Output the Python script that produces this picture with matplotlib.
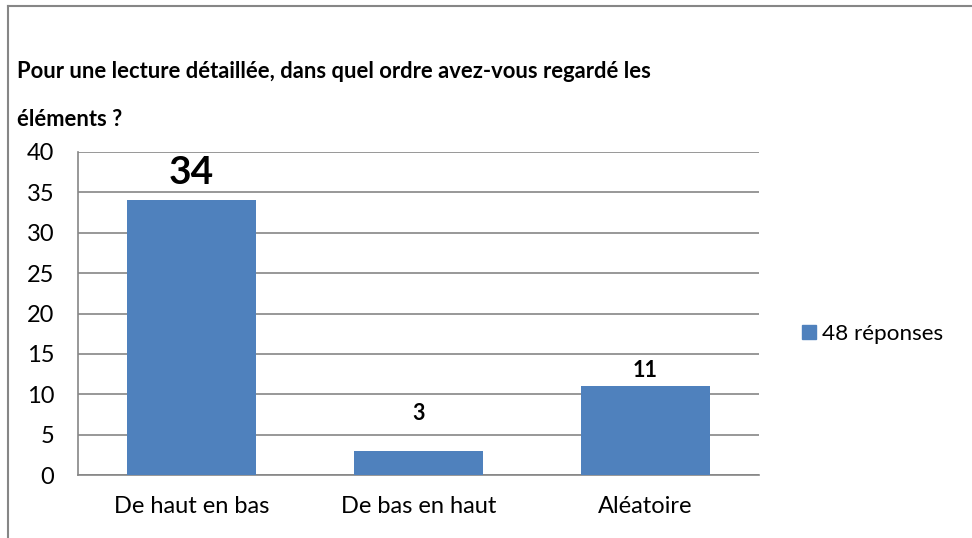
import matplotlib
matplotlib.use("Agg")
import matplotlib.pyplot as plt
from matplotlib.lines import Line2D
from matplotlib.patches import Patch

categories = ["De haut en bas", "De bas en haut", "Aléatoire"]
values = [34, 3, 11]
series_name = "48 réponses"
yticks = [0, 5, 10, 15, 20, 25, 30, 35, 40]
title_lines = ["Pour une lecture détaillée, dans quel ordre avez-vous regardé les", "éléments ?"]

# label styles (font size, offset above bar in px)
label_sizes = [28, 15.5, 15.5]
label_offsets_px = [28, 37, 16]

W, H = 972, 538
plt.rcParams['font.family'] = ['Lato', 'DejaVu Sans']
fig = plt.figure(figsize=(W / 100, H / 100), dpi=100)
fig.patch.set_facecolor("white")

# Frame lines (top and left)
fig.add_artist(Line2D([8 / W, 1], [1 - 6 / H, 1 - 6 / H], color="#868686", lw=1.5, transform=fig.transFigure))
fig.add_artist(Line2D([8 / W, 8 / W], [0, 1 - 6 / H], color="#868686", lw=1.5, transform=fig.transFigure))

ax = fig.add_axes([78 / W, 1 - 475 / H, (759 - 78) / W, (475 - 152) / H])
bar_color = "#4F81BD"
x = list(range(len(categories)))
ax.bar(x, values, width=0.57, color=bar_color, zorder=3)
ax.set_xlim(-0.5, len(categories) - 0.5)
ax.set_ylim(0, 40)
ax.set_yticks(yticks)
ax.set_yticklabels([str(t) for t in yticks], fontsize=17)
ax.set_xticks(x)
ax.set_xticklabels(categories, fontsize=17)
ax.tick_params(axis="both", length=0)
ax.tick_params(axis="y", pad=17)
ax.tick_params(axis="x", pad=15)
ax.yaxis.grid(True, color="#868686", lw=1.2, zorder=0)
for s in ["top", "right"]:
    ax.spines[s].set_visible(False)
for s in ["left", "bottom"]:
    ax.spines[s].set_color("#868686")
    ax.spines[s].set_linewidth(1.2)

for xi, v, fs, off in zip(x, values, label_sizes, label_offsets_px):
    ax.annotate(str(v), (xi, v), xytext=(0, off * 0.72), textcoords="offset points",
                ha="center", va="center", fontsize=fs, fontweight="bold", zorder=4)

fig.text(17 / W, 1 - 72 / H, title_lines[0], fontsize=15.8, fontweight="bold", ha="left", va="center")
fig.text(17 / W, 1 - 120 / H, title_lines[1], fontsize=15.8, fontweight="bold", ha="left", va="center")

fig.legend(handles=[Patch(color=bar_color, label=series_name)], loc="center left",
           bbox_to_anchor=(782 / W, 1 - 334 / H), frameon=False, fontsize=16.2,
           handlelength=0.6, handleheight=0.6, handletextpad=0.3)

fig.savefig("out.png", dpi=100, facecolor="white")
